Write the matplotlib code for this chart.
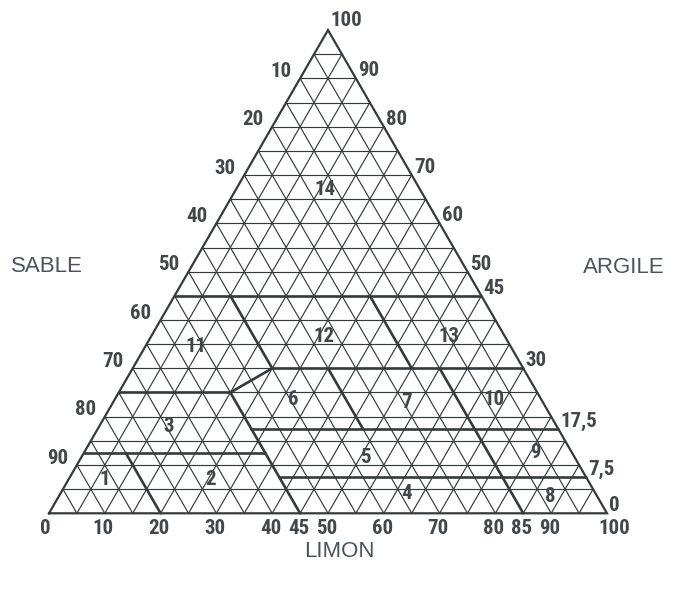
import numpy as np
import matplotlib.pyplot as plt

# texture triangle: silt along the bottom, clay to the apex, sand = 100 - silt - clay
H = np.sqrt(3) / 2

grid_steps = np.arange(5, 100, 5)

# class boundaries, each as a pair of (silt, clay) end points
bound_silt = [[0, 55], [10, 25], [25, 70], [25, 20], [0, 20], [20, 45],
              [0, 32.5], [7.5, 20], [27.5, 82.5], [37.5, 92.5],
              [35, 47.5], [35, 50], [55, 85]]
bound_clay = [[45, 45], [45, 30], [30, 30], [30, 25], [25, 25], [25, 0],
              [12.5, 12.5], [12.5, 0], [17.5, 17.5], [7.5, 7.5],
              [30, 17.5], [45, 30], [30, 0]]

# class numbers and where they sit (silt, clay)
class_ids = ['14', '11', '12', '13', '6', '7', '10', '3', '5', '9', '1', '2', '4', '8']
class_silt = [16, 9, 31, 53.5, 32, 52.5, 68, 12.5, 51, 81, 6.5, 25.5, 62, 88]
class_clay = [67, 34.5, 36.5, 36.5, 23.5, 23, 23.5, 18, 11.5, 12.5, 7, 7, 4, 3.5]

sand_ticks = [10, 20, 30, 40, 50, 60, 70, 80, 90]
clay_ticks = [90, 80, 70, 60, 50, 45, 30, 17.5, 7.5, 0]
silt_ticks = [0, 10, 20, 30, 40, 45, 50, 60, 70, 80, 85, 90, 100]


def tern(silt, clay):
    silt = np.asarray(silt, dtype=float)
    clay = np.asarray(clay, dtype=float)
    return silt + clay / 2, clay * H


def fmt(v):
    return ('%g' % v).replace('.', ',')


ink = '#363a3d'
num_font = dict(family=['Roboto Condensed', 'PT Sans Narrow', 'DejaVu Sans'],
                weight='bold', fontsize=15, color='#43474a')

fig = plt.figure(figsize=(6.73, 5.89), dpi=100)
ax = fig.add_axes([0, 0, 1, 1])
ax.set_xlim(-8.781, 111.83)
ax.set_ylim(-13.566, 91.99)
ax.axis('off')

# fine 5 % grid
for k in grid_steps:
    for s, c in [([0, 100 - k], [k, k]),          # clay = k
                 ([k, k], [0, 100 - k]),          # silt = k
                 ([100 - k, 0], [0, 100 - k])]:   # sand = k
        x, y = tern(s, c)
        ax.plot(x, y, color=ink, lw=0.85, solid_capstyle='butt')

# outline
x, y = tern([0, 100, 0, 0], [0, 0, 100, 0])
ax.plot(x, y, color=ink, lw=1.6, solid_joinstyle='miter')

# class boundaries
for s, c in zip(bound_silt, bound_clay):
    x, y = tern(s, c)
    ax.plot(x, y, color=ink, lw=1.9, solid_capstyle='round')

for lab, s, c in zip(class_ids, class_silt, class_clay):
    x, y = tern(s, c)
    ax.text(x, y, lab, ha='center', va='center', **num_font)

# left side: sand
for v in sand_ticks:
    x, y = tern(0, 100 - v)
    ax.annotate(str(v), (x, y), xytext=(-6.5, 5), textcoords='offset points',
                ha='right', va='center', **num_font)

# right side: clay
for v in clay_ticks:
    x, y = tern(100 - v, v)
    ax.annotate(fmt(v), (x, y), xytext=(1.5, 5.5), textcoords='offset points',
                ha='left', va='center', **num_font)

x, y = tern(0, 100)
ax.annotate('100', (x, y), xytext=(2, 7), textcoords='offset points',
            ha='left', va='center', **num_font)

# bottom: silt
for v in silt_ticks:
    x, y = tern(v, 0)
    dx = -3 if v == 0 else (5 if v == 100 else -1)
    ax.annotate(str(v), (x, y), xytext=(dx, -11), textcoords='offset points',
                ha='center', va='center', **num_font)

title_font = dict(family=['Liberation Sans', 'DejaVu Sans'], fontsize=16,
                  color='#48545a')
ax.text(-0.4, 44.2, 'SABLE', ha='center', va='center', **title_font)
ax.text(103.0, 44.0, 'ARGILE', ha='center', va='center', **title_font)
ax.text(52.1, -6.9, 'LIMON', ha='center', va='center', **title_font)

fig.savefig('out.png', dpi=100, facecolor='white')
